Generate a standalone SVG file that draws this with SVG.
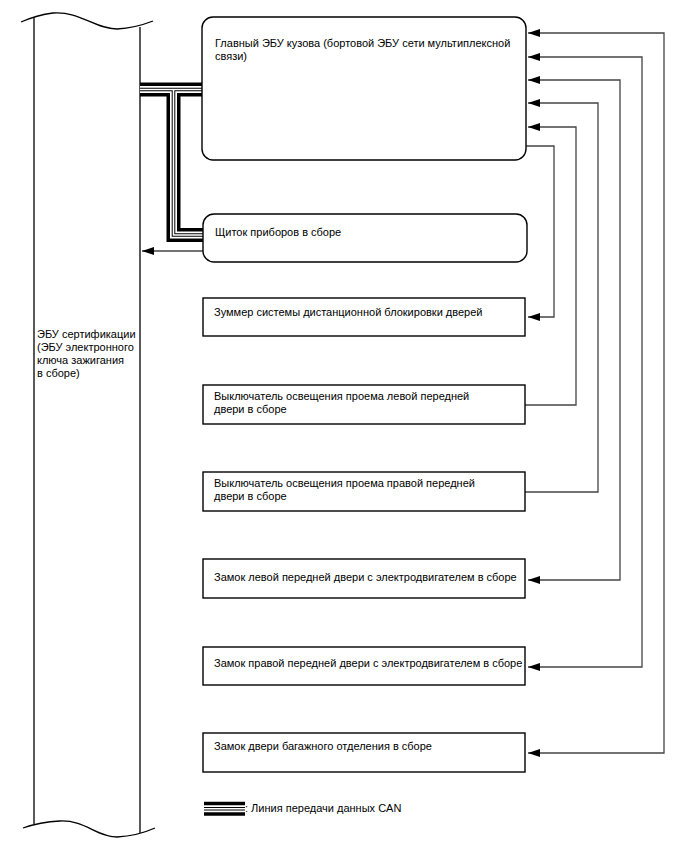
<svg xmlns="http://www.w3.org/2000/svg" xmlns:xlink="http://www.w3.org/1999/xlink" width="688" height="852" viewBox="0 0 688 852">
<style>
text{font-family:"Liberation Sans",Arial,sans-serif;font-size:11px;fill:#000}
.box{fill:#fff;stroke:#000;stroke-width:1.4}
.edge{fill:none;stroke:#444;stroke-width:1.3}
.wall{fill:none;stroke:#000;stroke-width:1.3}
.can0{fill:none;stroke:#000;stroke-width:14;stroke-linejoin:miter}
.can1{fill:none;stroke:#fff;stroke-width:7;stroke-linejoin:miter}
.can2{fill:none;stroke:#000;stroke-width:3.6;stroke-linejoin:miter}
.can3{fill:none;stroke:#fff;stroke-width:1.6;stroke-linejoin:miter}
</style>
<defs>
<marker id="arr" viewBox="0 0 12 8" refX="12" refY="4" markerWidth="12" markerHeight="8" markerUnits="userSpaceOnUse" orient="auto-start-reverse">
<path d="M0,0 L12,4 L0,8 z" fill="#000"/>
</marker>
<path id="bus1" d="M140,89.5 H202"/>
<path id="bus2" d="M173.5,89.5 V235 H203"/>
<path id="leg" d="M204,808.7 H245"/>
</defs>
<rect width="688" height="852" fill="#fff"/>

<g id="certification-ecu">
<path class="wall" d="M21,22 Q37,15 53,13 C80,11 95,29 117,29 Q135,28 153,21"/>
<path class="wall" d="M23,828 Q40,822 60,821 C85,820 97,837 117,837 Q137,836 155,828"/>
<line class="wall" x1="34" y1="17" x2="34" y2="824"/>
<line class="wall" x1="140" y1="27" x2="140" y2="833"/>
<text x="37" y="338">ЭБУ сертификации</text>
<text x="37" y="351">(ЭБУ электронного</text>
<text x="37" y="364">ключа зажигания</text>
<text x="37" y="377">в сборе)</text>
</g>

<g id="connectors">
<g id="can-bus">
<use xlink:href="#bus1" class="can0"/><use xlink:href="#bus2" class="can0"/>
<use xlink:href="#bus1" class="can1"/><use xlink:href="#bus2" class="can1"/>
<use xlink:href="#bus1" class="can2"/><use xlink:href="#bus2" class="can2"/>
<use xlink:href="#bus1" class="can3"/><use xlink:href="#bus2" class="can3"/>
</g>
<path class="edge" d="M203,251 H142" marker-end="url(#arr)"/>
<path class="edge" d="M526,146 H554 V317 H528" marker-end="url(#arr)"/>
<path class="edge" d="M525,405 H576 V127 H528" marker-end="url(#arr)"/>
<path class="edge" d="M525,492 H598 V103 H528" marker-end="url(#arr)"/>
<path class="edge" d="M528,80 H620 V580 H528" marker-start="url(#arr)" marker-end="url(#arr)"/>
<path class="edge" d="M528,57 H642 V667 H528" marker-start="url(#arr)" marker-end="url(#arr)"/>
<path class="edge" d="M528,33 H664 V753 H528" marker-start="url(#arr)" marker-end="url(#arr)"/>
</g>

<g id="main-body-ecu">
<rect class="box" x="202" y="17" width="324" height="143" rx="11"/>
<text x="215" y="47">Главный ЭБУ кузова (бортовой ЭБУ сети мультиплексной</text>
<text x="215" y="60">связи)</text>
</g>

<g id="instrument-cluster">
<rect class="box" x="203" y="214" width="324" height="48" rx="11"/>
<text x="215" y="236">Щиток приборов в сборе</text>
</g>

<g id="buzzer">
<rect class="box" x="203" y="298" width="322" height="38"/>
<text x="214" y="316">Зуммер системы дистанционной блокировки дверей</text>
</g>

<g id="left-door-switch">
<rect class="box" x="203" y="385" width="322" height="39"/>
<text x="214" y="400">Выключатель освещения проема левой передней</text>
<text x="214" y="413">двери в сборе</text>
</g>

<g id="right-door-switch">
<rect class="box" x="203" y="472" width="322" height="39"/>
<text x="214" y="487">Выключатель освещения проема правой передней</text>
<text x="214" y="500">двери в сборе</text>
</g>

<g id="left-door-lock">
<rect class="box" x="203" y="559" width="322" height="39"/>
<text x="214" y="581">Замок левой передней двери с электродвигателем в сборе</text>
</g>

<g id="right-door-lock">
<rect class="box" x="203" y="647" width="322" height="38"/>
<text x="214" y="667">Замок правой передней двери с электродвигателем в сборе</text>
</g>

<g id="trunk-lock">
<rect class="box" x="203" y="733" width="322" height="39"/>
<text x="214" y="750">Замок двери багажного отделения в сборе</text>
</g>

<g id="legend">
<use xlink:href="#leg" class="can0"/>
<use xlink:href="#leg" class="can1"/>
<use xlink:href="#leg" class="can2"/>
<use xlink:href="#leg" class="can3"/>
<text x="245" y="812">: Линия передачи данных CAN</text>
</g>
</svg>
